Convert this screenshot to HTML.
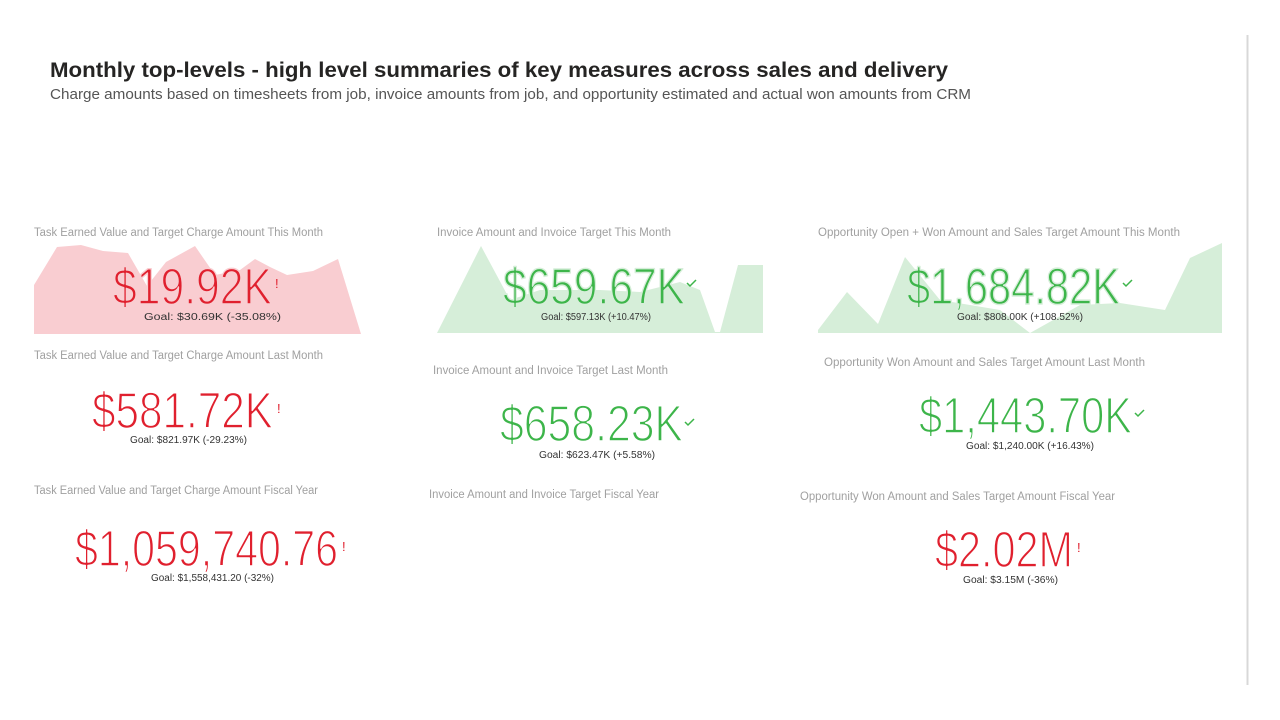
<!DOCTYPE html>
<html><head><meta charset="utf-8"><style>
html,body{margin:0;padding:0;background:#fff;width:1280px;height:720px;overflow:hidden}
svg{display:block}
.lbl{font-family:"Liberation Sans",sans-serif;font-size:11.5px;fill:#a0a0a0}
.big{font-family:"Liberation Sans",sans-serif;font-size:51px;font-weight:normal;stroke-width:1.5px;stroke-linejoin:round}
.goal{font-family:"Liberation Sans",sans-serif;font-size:10px;fill:#333}
.r{fill:#e0202e}.g{fill:#3db54a}
.sp1{stroke:#f9cdd1}.sp2{stroke:#d6eed9}.w{stroke:#fff}
</style></head><body>
<svg width="1280" height="720" viewBox="0 0 1280 720">
<line x1="1247.5" y1="35" x2="1247.5" y2="685" stroke="#d8d8d8" stroke-width="2"/>
<text x="50" y="77" font-family="Liberation Sans,sans-serif" font-size="21" font-weight="bold" fill="#252423" textLength="898" lengthAdjust="spacingAndGlyphs">Monthly top-levels - high level summaries of key measures across sales and delivery</text>
<text x="50" y="99" font-family="Liberation Sans,sans-serif" font-size="14.5" fill="#555" textLength="921" lengthAdjust="spacingAndGlyphs">Charge amounts based on timesheets from job, invoice amounts from job, and opportunity estimated and actual won amounts from CRM</text>

<polygon fill="#f9cdd1" points="34,334 34,285 57,247 81,245 103,251 128,253 147,286 166,262 195,246 215,275 240,270 255,259 270,267 287,275 313,271 338,259 361,334"/>
<polygon fill="#d6eed9" points="437,333 481,246 510,300 540,290 600,290 640,292 680,282 700,290 715,332 720,332 738,265 763,265 763,333"/>
<polygon fill="#d6eed9" points="818,333 818,330 847,292 878,324 905,257 940,300 1000,310 1030,333 1080,305 1120,303 1165,310 1190,258 1222,243 1222,333"/>

<text class="lbl" x="34" y="236" textLength="289" lengthAdjust="spacingAndGlyphs">Task Earned Value and Target Charge Amount This Month</text>
<text class="big r sp1" x="113" y="304" textLength="159" lengthAdjust="spacingAndGlyphs">$19.92K</text>
<text class="r" x="275" y="288" font-family="Liberation Sans" font-size="13">!</text>
<text class="goal" x="144" y="320" textLength="137" lengthAdjust="spacingAndGlyphs">Goal: $30.69K (-35.08%)</text>

<text class="lbl" x="34" y="359" textLength="289" lengthAdjust="spacingAndGlyphs">Task Earned Value and Target Charge Amount Last Month</text>
<text class="big r w" x="92" y="428" textLength="181" lengthAdjust="spacingAndGlyphs">$581.72K</text>
<text class="r" x="277" y="413" font-family="Liberation Sans" font-size="13">!</text>
<text class="goal" x="130" y="443" textLength="117" lengthAdjust="spacingAndGlyphs">Goal: $821.97K (-29.23%)</text>

<text class="lbl" x="34" y="494" textLength="284" lengthAdjust="spacingAndGlyphs">Task Earned Value and Target Charge Amount Fiscal Year</text>
<text class="big r w" x="75" y="566" textLength="263" lengthAdjust="spacingAndGlyphs">$1,059,740.76</text>
<text class="r" x="342" y="551" font-family="Liberation Sans" font-size="13">!</text>
<text class="goal" x="151" y="581" textLength="123" lengthAdjust="spacingAndGlyphs">Goal: $1,558,431.20 (-32%)</text>

<text class="lbl" x="437" y="236" textLength="234" lengthAdjust="spacingAndGlyphs">Invoice Amount and Invoice Target This Month</text>
<text class="big g sp2" x="503" y="304" textLength="182" lengthAdjust="spacingAndGlyphs">$659.67K</text>
<polyline points="687,283 690,286 696,280" fill="none" stroke="#3db54a" stroke-width="1.5"/>
<text class="goal" x="541" y="320" textLength="110" lengthAdjust="spacingAndGlyphs">Goal: $597.13K (+10.47%)</text>

<text class="lbl" x="433" y="374" textLength="235" lengthAdjust="spacingAndGlyphs">Invoice Amount and Invoice Target Last Month</text>
<text class="big g w" x="500" y="441" textLength="183" lengthAdjust="spacingAndGlyphs">$658.23K</text>
<polyline points="685,422 688,425 694,419" fill="none" stroke="#3db54a" stroke-width="1.5"/>
<text class="goal" x="539" y="458" textLength="116" lengthAdjust="spacingAndGlyphs">Goal: $623.47K (+5.58%)</text>

<text class="lbl" x="429" y="498" textLength="230" lengthAdjust="spacingAndGlyphs">Invoice Amount and Invoice Target Fiscal Year</text>

<text class="lbl" x="818" y="236" textLength="362" lengthAdjust="spacingAndGlyphs">Opportunity Open + Won Amount and Sales Target Amount This Month</text>
<text class="big g sp2" x="907" y="304" textLength="213" lengthAdjust="spacingAndGlyphs">$1,684.82K</text>
<polyline points="1123,283 1126,286 1132,280" fill="none" stroke="#3db54a" stroke-width="1.5"/>
<text class="goal" x="957" y="320" textLength="126" lengthAdjust="spacingAndGlyphs">Goal: $808.00K (+108.52%)</text>

<text class="lbl" x="824" y="366" textLength="321" lengthAdjust="spacingAndGlyphs">Opportunity Won Amount and Sales Target Amount Last Month</text>
<text class="big g w" x="919" y="433" textLength="213" lengthAdjust="spacingAndGlyphs">$1,443.70K</text>
<polyline points="1135,413 1138,416 1144,410" fill="none" stroke="#3db54a" stroke-width="1.5"/>
<text class="goal" x="966" y="449" textLength="128" lengthAdjust="spacingAndGlyphs">Goal: $1,240.00K (+16.43%)</text>

<text class="lbl" x="800" y="500" textLength="315" lengthAdjust="spacingAndGlyphs">Opportunity Won Amount and Sales Target Amount Fiscal Year</text>
<text class="big r w" x="935" y="567" textLength="138" lengthAdjust="spacingAndGlyphs">$2.02M</text>
<text class="r" x="1077" y="552" font-family="Liberation Sans" font-size="13">!</text>
<text class="goal" x="963" y="583" textLength="95" lengthAdjust="spacingAndGlyphs">Goal: $3.15M (-36%)</text>
</svg>
</body></html>
